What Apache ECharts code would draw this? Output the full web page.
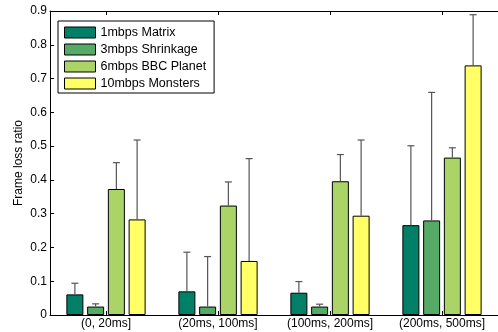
<!DOCTYPE html>
<html>
<head>
<meta charset="utf-8">
<script src="https://cdn.jsdelivr.net/npm/echarts@6/dist/echarts.min.js"></script>
<style>
  html, body { margin: 0; padding: 0; background: #fff; }
  #chart { width: 498px; height: 332px; }
</style>
</head>
<body>
<div id="chart"></div>
<script>
// Delay bins
const categories = ['(0, 20ms]', '(20ms, 100ms]', '(100ms, 200ms]', '(200ms, 500ms]'];

// Mean frame loss ratio per stream, one value per delay bin
const matrix    = [0.061, 0.070, 0.066, 0.266];
const shrinkage = [0.025, 0.025, 0.025, 0.280];
const bbcPlanet = [0.373, 0.324, 0.396, 0.466];
const monsters  = [0.283, 0.160, 0.294, 0.739];

// Upper error (standard deviation) per stream
const matrixErr    = [0.033, 0.116, 0.033, 0.235];
const shrinkageErr = [0.008, 0.148, 0.007, 0.379];
const bbcPlanetErr = [0.078, 0.070, 0.079, 0.029];
const monstersErr  = [0.235, 0.303, 0.224, 0.150];

const seriesNames = ['1mbps Matrix', '3mbps Shrinkage', '6mbps BBC Planet', '10mbps Monsters'];
const seriesMeans = [matrix, shrinkage, bbcPlanet, monsters];
const seriesErrs  = [matrixErr, shrinkageErr, bbcPlanetErr, monstersErr];
const colors = ['#008066', '#55aa66', '#aad466', '#ffff66'];

const BAR_W = 17;
const BAR_GAP = 0.22;
const FONT = 'Liberation Sans, Arial, Helvetica, sans-serif';

const chart = echarts.init(document.getElementById('chart'), null, { renderer: 'canvas' });

const barSeries = seriesNames.map((name, i) => ({
  name: name,
  type: 'bar',
  xAxisIndex: 0,
  yAxisIndex: 0,
  barWidth: BAR_W,
  barGap: (BAR_GAP * 100) + '%',
  data: seriesMeans[i],
  itemStyle: { color: colors[i], borderColor: '#000', borderWidth: 1 },
  emphasis: { disabled: true },
  z: 2
}));

// Error bar rows: [category index, series index, mean, upper error]
const errData = [];
seriesMeans.forEach((vals, s) => {
  vals.forEach((v, c) => errData.push([c, s, v, seriesErrs[s][c]]));
});

const errorSeries = {
  type: 'custom',
  name: 'err',
  xAxisIndex: 0,
  yAxisIndex: 0,
  data: errData,
  encode: { x: 0, y: 2 },
  z: 3,
  silent: true,
  renderItem: function (params, api) {
    const c = api.value(0);
    const s = api.value(1);
    const mean = api.value(2);
    const err = api.value(3);
    const step = BAR_W * (1 + BAR_GAP);
    const n = seriesNames.length;
    const dx = (s - (n - 1) / 2) * step;
    const base = api.coord([c, mean]);
    const top = api.coord([c, mean + err]);
    const x = base[0] + dx;
    const capHalf = 3.5;
    const style = { stroke: '#555', lineWidth: 1.2 };
    return {
      type: 'group',
      children: [
        { type: 'line', shape: { x1: x, y1: base[1], x2: x, y2: top[1] }, style: style },
        { type: 'line', shape: { x1: x - capHalf, y1: top[1], x2: x + capHalf, y2: top[1] }, style: style }
      ]
    };
  }
};

const option = {
  backgroundColor: '#fff',
  animation: false,
  legend: {
    data: seriesNames,
    orient: 'vertical',
    left: 58,
    top: 21,
    padding: [5, 8, 3, 6],
    itemGap: 4,
    itemWidth: 31,
    itemHeight: 11,
    icon: 'rect',
    backgroundColor: '#fff',
    borderColor: '#000',
    borderWidth: 1,
    borderRadius: 0,
    selectedMode: false,
    textStyle: { fontFamily: FONT, fontSize: 12.5, color: '#000', lineHeight: 12 },
    itemStyle: { borderColor: '#000', borderWidth: 1 }
  },
  grid: { left: 50, top: 11, width: 457, height: 304, containLabel: false },
  xAxis: [
    {
      type: 'category',
      data: categories,
      position: 'bottom',
      boundaryGap: true,
      axisLine: { show: true, lineStyle: { color: '#000', width: 1 } },
      axisTick: { show: true, inside: true, alignWithLabel: true, length: 4, lineStyle: { color: '#000' } },
      axisLabel: { fontFamily: FONT, fontSize: 12, color: '#000', margin: 3 },
      splitLine: { show: false }
    },
    {
      type: 'category',
      data: categories,
      position: 'top',
      boundaryGap: true,
      axisLine: { show: true, lineStyle: { color: '#000', width: 1 } },
      axisTick: { show: true, inside: true, alignWithLabel: true, length: 4, lineStyle: { color: '#000' } },
      axisLabel: { show: false },
      splitLine: { show: false }
    }
  ],
  yAxis: [
    {
      type: 'value',
      min: 0,
      max: 0.9,
      interval: 0.1,
      name: 'Frame loss ratio',
      nameLocation: 'middle',
      nameGap: 25,
      nameMoveOverlap: false,
      nameRotate: 90,
      nameTextStyle: { fontFamily: FONT, fontSize: 12, color: '#000' },
      axisLine: { show: true, lineStyle: { color: '#000', width: 1 } },
      axisTick: { show: true, inside: true, length: 4, lineStyle: { color: '#000' } },
      axisLabel: { fontFamily: FONT, fontSize: 12, color: '#000', margin: 3 },
      splitLine: { show: false }
    }
  ],
  series: barSeries.concat([errorSeries])
};

chart.setOption(option);
</script>
</body>
</html>
